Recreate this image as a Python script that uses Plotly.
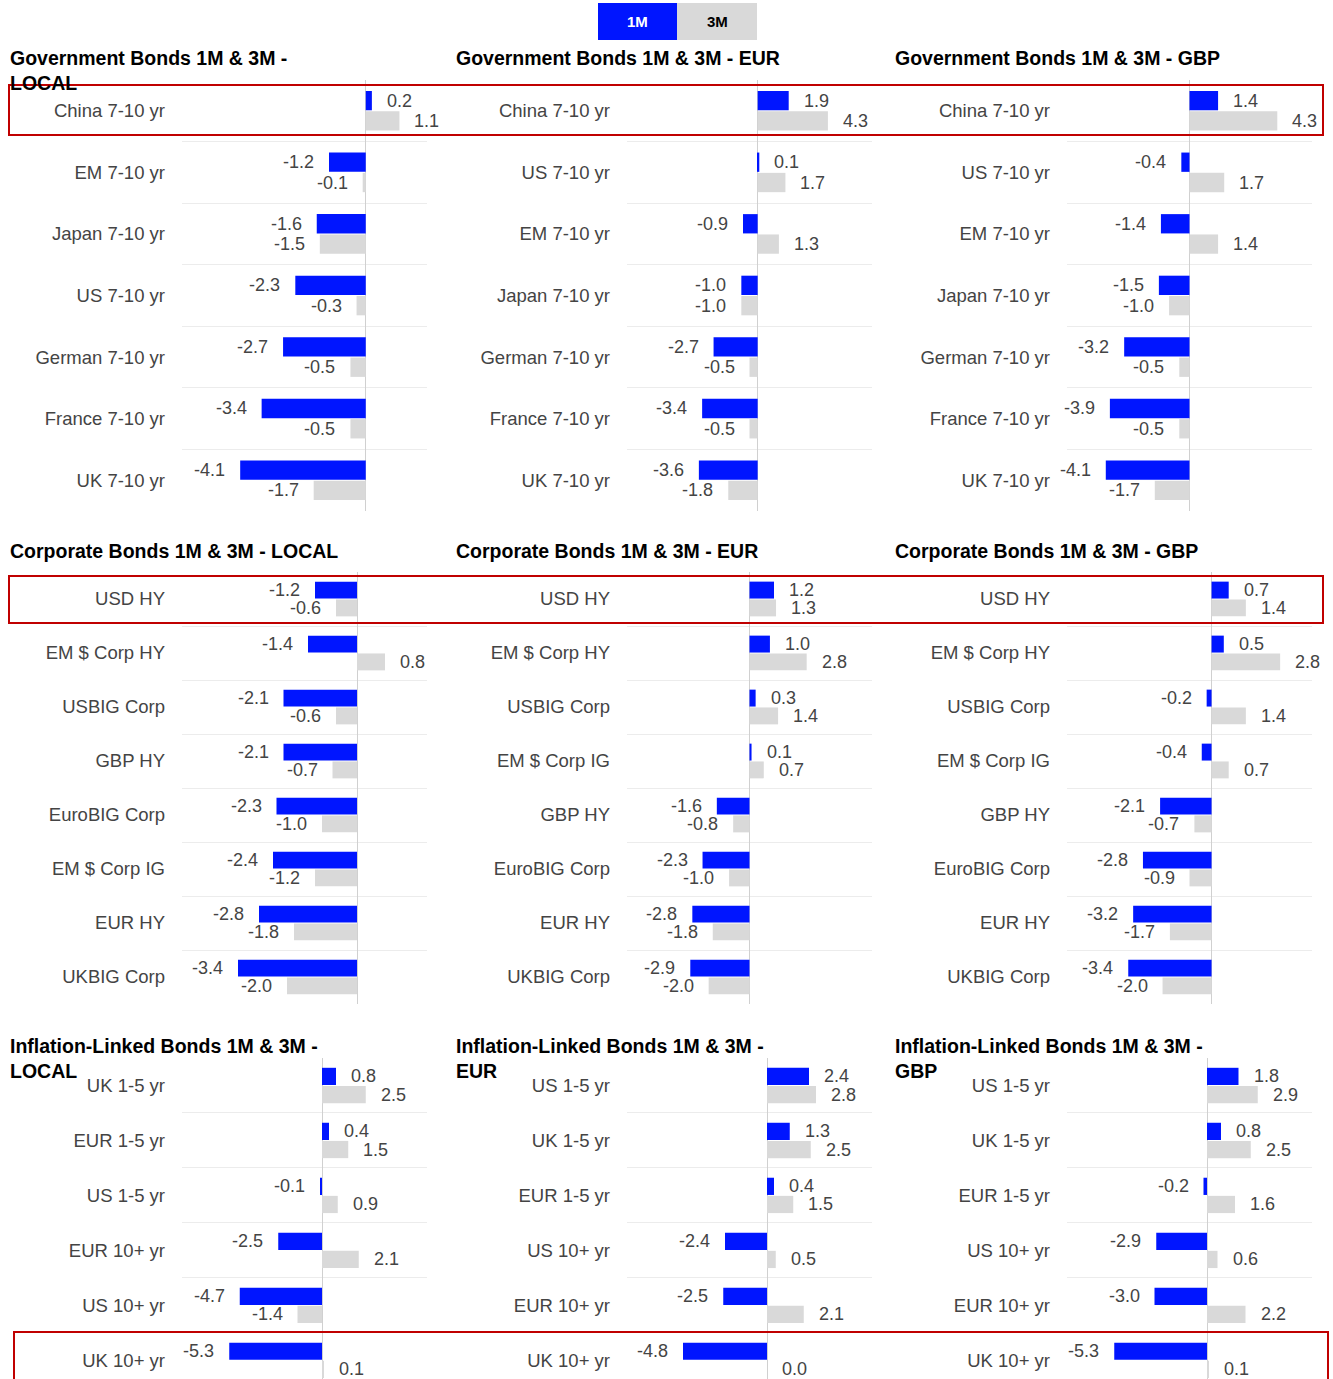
import plotly.graph_objects as go

BLUE = "#0015ff"
GREY = "#d9d9d9"
FONT = "Liberation Sans, Arial, sans-serif"

# ---- data ----
gov_local_cats = ["China 7-10 yr", "EM 7-10 yr", "Japan 7-10 yr", "US 7-10 yr",
                  "German 7-10 yr", "France 7-10 yr", "UK 7-10 yr"]
gov_local_1m = [0.2, -1.2, -1.6, -2.3, -2.7, -3.4, -4.1]
gov_local_3m = [1.1, -0.1, -1.5, -0.3, -0.5, -0.5, -1.7]

gov_eur_cats = ["China 7-10 yr", "US 7-10 yr", "EM 7-10 yr", "Japan 7-10 yr",
                "German 7-10 yr", "France 7-10 yr", "UK 7-10 yr"]
gov_eur_1m = [1.9, 0.1, -0.9, -1.0, -2.7, -3.4, -3.6]
gov_eur_3m = [4.3, 1.7, 1.3, -1.0, -0.5, -0.5, -1.8]

gov_gbp_cats = ["China 7-10 yr", "US 7-10 yr", "EM 7-10 yr", "Japan 7-10 yr",
                "German 7-10 yr", "France 7-10 yr", "UK 7-10 yr"]
gov_gbp_1m = [1.4, -0.4, -1.4, -1.5, -3.2, -3.9, -4.1]
gov_gbp_3m = [4.3, 1.7, 1.4, -1.0, -0.5, -0.5, -1.7]

corp_local_cats = ["USD HY", "EM $ Corp HY", "USBIG Corp", "GBP HY",
                   "EuroBIG Corp", "EM $ Corp IG", "EUR HY", "UKBIG Corp"]
corp_local_1m = [-1.2, -1.4, -2.1, -2.1, -2.3, -2.4, -2.8, -3.4]
corp_local_3m = [-0.6, 0.8, -0.6, -0.7, -1.0, -1.2, -1.8, -2.0]

corp_eur_cats = ["USD HY", "EM $ Corp HY", "USBIG Corp", "EM $ Corp IG",
                 "GBP HY", "EuroBIG Corp", "EUR HY", "UKBIG Corp"]
corp_eur_1m = [1.2, 1.0, 0.3, 0.1, -1.6, -2.3, -2.8, -2.9]
corp_eur_3m = [1.3, 2.8, 1.4, 0.7, -0.8, -1.0, -1.8, -2.0]

corp_gbp_cats = ["USD HY", "EM $ Corp HY", "USBIG Corp", "EM $ Corp IG",
                 "GBP HY", "EuroBIG Corp", "EUR HY", "UKBIG Corp"]
corp_gbp_1m = [0.7, 0.5, -0.2, -0.4, -2.1, -2.8, -3.2, -3.4]
corp_gbp_3m = [1.4, 2.8, 1.4, 0.7, -0.7, -0.9, -1.7, -2.0]

infl_local_cats = ["UK 1-5 yr", "EUR 1-5 yr", "US 1-5 yr", "EUR 10+ yr", "US 10+ yr", "UK 10+ yr"]
infl_local_1m = [0.8, 0.4, -0.1, -2.5, -4.7, -5.3]
infl_local_3m = [2.5, 1.5, 0.9, 2.1, -1.4, 0.1]

infl_eur_cats = ["US 1-5 yr", "UK 1-5 yr", "EUR 1-5 yr", "US 10+ yr", "EUR 10+ yr", "UK 10+ yr"]
infl_eur_1m = [2.4, 1.3, 0.4, -2.4, -2.5, -4.8]
infl_eur_3m = [2.8, 2.5, 1.5, 0.5, 2.1, 0.0]

infl_gbp_cats = ["US 1-5 yr", "UK 1-5 yr", "EUR 1-5 yr", "US 10+ yr", "EUR 10+ yr", "UK 10+ yr"]
infl_gbp_1m = [1.8, 0.8, -0.2, -2.9, -3.0, -5.3]
infl_gbp_3m = [2.9, 2.5, 1.6, 0.6, 2.2, 0.1]

W, H = 1333, 1379


def px_x(p):
    return p / W


def px_y(p):
    return 1 - p / H


# (title, cats, 1m, 3m, x range, column, section)
panels = [
    ("Government Bonds 1M & 3M -<br>LOCAL", gov_local_cats, gov_local_1m, gov_local_3m, [-6, 2], 0, 0),
    ("Government Bonds 1M & 3M - EUR", gov_eur_cats, gov_eur_1m, gov_eur_3m, [-8, 7], 1, 0),
    ("Government Bonds 1M & 3M - GBP", gov_gbp_cats, gov_gbp_1m, gov_gbp_3m, [-6, 6], 2, 0),
    ("Corporate Bonds 1M & 3M - LOCAL", corp_local_cats, corp_local_1m, corp_local_3m, [-5, 2], 0, 1),
    ("Corporate Bonds 1M & 3M - EUR", corp_eur_cats, corp_eur_1m, corp_eur_3m, [-6, 6], 1, 1),
    ("Corporate Bonds 1M & 3M - GBP", corp_gbp_cats, corp_gbp_1m, corp_gbp_3m, [-5.9, 4.1], 2, 1),
    ("Inflation-Linked Bonds 1M & 3M -<br>LOCAL", infl_local_cats, infl_local_1m, infl_local_3m, [-8, 6], 0, 2),
    ("Inflation-Linked Bonds 1M & 3M -<br>EUR", infl_eur_cats, infl_eur_1m, infl_eur_3m, [-8, 6], 1, 2),
    ("Inflation-Linked Bonds 1M & 3M -<br>GBP", infl_gbp_cats, infl_gbp_1m, infl_gbp_3m, [-8, 6], 2, 2),
]

col_px = [(182, 427), (627, 872), (1067, 1312)]
title_x = [8, 454, 893]
sections = [
    dict(top=80, bottom=511, title_y=45, cut=0),
    dict(top=572, bottom=1004, title_y=538, cut=0),
    dict(top=1058, bottom=H, title_y=1033, cut=0.16),
]

BARGAP = 0.34
GROUPGAP = 0.05
OFF = (1 - BARGAP) / 4
LABEL_FONT = dict(family=FONT, size=18, color="#444444")

fig = go.Figure()
annotations = []

for k, (title, cats, v1, v3, xr, col, sec) in enumerate(panels):
    n = k + 1
    xa = "x" if n == 1 else f"x{n}"
    ya = "y" if n == 1 else f"y{n}"
    s = sections[sec]
    fig.add_trace(go.Bar(y=cats, x=v1, orientation="h", marker=dict(color=BLUE, line_width=0),
                         name="1M", xaxis=xa, yaxis=ya, showlegend=False))
    fig.add_trace(go.Bar(y=cats, x=v3, orientation="h", marker=dict(color=GREY, line_width=0),
                         name="3M", xaxis=xa, yaxis=ya, showlegend=False))

    x0, x1 = col_px[col]
    nrows = len(cats)
    fig.layout[f"xaxis{'' if n == 1 else n}"] = dict(
        domain=[px_x(x0), px_x(x1)], range=xr, anchor=ya,
        showgrid=False, showticklabels=False, zeroline=True,
        zerolinecolor="#d0d0d0", zerolinewidth=1, fixedrange=True)
    fig.layout[f"yaxis{'' if n == 1 else n}"] = dict(
        domain=[px_y(s["bottom"]), px_y(s["top"])], anchor=xa,
        type="category", categoryorder="array", categoryarray=cats,
        range=[nrows - 0.5 - s["cut"], -0.5], tickson="boundaries", ticks="",
        showgrid=True, gridcolor="#ececec", gridwidth=1,
        ticklabelstandoff=16,
        tickfont=dict(family=FONT, size=18.5, color="#444444"), fixedrange=True)

    for i in range(nrows):
        for val, dy in ((v1[i], -OFF), (v3[i], OFF)):
            pos = val >= 0
            annotations.append(dict(
                x=val, y=i + dy, xref=xa, yref=ya, text=f"{val:.1f}",
                showarrow=False, xanchor="left" if pos else "right",
                xshift=13 if pos else -13, yanchor="middle", font=LABEL_FONT))

    annotations.append(dict(
        x=px_x(title_x[col]), y=px_y(s["title_y"]), xref="paper", yref="paper",
        text=f"<b>{title}</b>", showarrow=False, xanchor="left", yanchor="top", align="left",
        font=dict(family=FONT, size=19.5, color="#000000")))

# toggle buttons at the top
shapes = [
    dict(type="rect", xref="paper", yref="paper", x0=px_x(598), x1=px_x(677),
         y0=px_y(40), y1=px_y(3), fillcolor=BLUE, line_width=0),
    dict(type="rect", xref="paper", yref="paper", x0=px_x(677), x1=px_x(757),
         y0=px_y(40), y1=px_y(3), fillcolor=GREY, line_width=0),
]
annotations.append(dict(x=px_x(637), y=px_y(21), xref="paper", yref="paper", text="<b>1M</b>",
                        showarrow=False, xanchor="center", yanchor="middle",
                        font=dict(family=FONT, size=15, color="white")))
annotations.append(dict(x=px_x(717), y=px_y(21), xref="paper", yref="paper", text="<b>3M</b>",
                        showarrow=False, xanchor="center", yanchor="middle",
                        font=dict(family=FONT, size=15, color="black")))

# red highlight boxes
for bx0, bx1, by0, by1 in [(9, 1323, 85, 135), (9, 1323, 576, 623), (14, 1328, 1332, 1395)]:
    shapes.append(dict(type="rect", xref="paper", yref="paper",
                       x0=px_x(bx0), x1=px_x(bx1), y0=px_y(by1), y1=px_y(by0),
                       line=dict(color="#c00000", width=2), fillcolor="rgba(0,0,0,0)"))

fig.update_layout(
    width=W, height=H,
    margin=dict(l=0, r=0, t=0, b=0),
    barmode="group", bargap=BARGAP, bargroupgap=GROUPGAP,
    plot_bgcolor="white", paper_bgcolor="white",
    font=dict(family=FONT),
    annotations=annotations, shapes=shapes,
    showlegend=False,
)

fig.write_html("out.html", config={"displayModeBar": False},
               post_script="document.body.style.margin='0';")
